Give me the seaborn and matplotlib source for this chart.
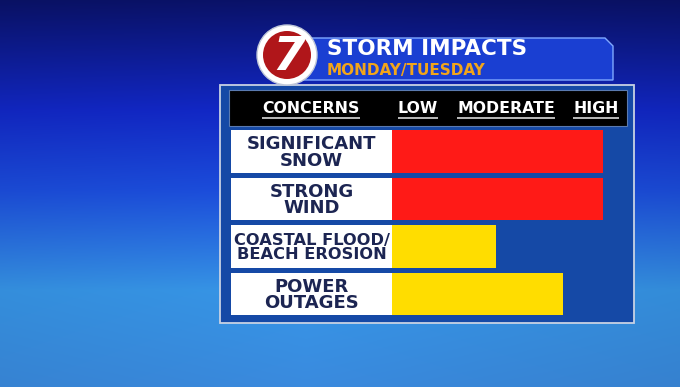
import numpy as np
import pandas as pd
import matplotlib
matplotlib.use("Agg")
import matplotlib.pyplot as plt
import seaborn as sns
from matplotlib.patches import Rectangle, Circle, Polygon

# ---- data ----
concerns = ["SIGNIFICANT\nSNOW", "STRONG\nWIND", "COASTAL FLOOD/\nBEACH EROSION", "POWER\nOUTAGES"]
impact = [3.0, 3.0, 1.48, 2.43]          # 0 = none, 1 = low, 2 = moderate, 3 = high
bar_colors = ["#ff1a17", "#ff1a17", "#ffdd00", "#ffdd00"]
levels = ["LOW", "MODERATE", "HIGH"]
header = "CONCERNS"
title = "STORM IMPACTS"
subtitle = "MONDAY/TUESDAY"

sns.set_theme(style="white")
plt.rcParams["font.family"] = ["DejaVu Sans"]

W, H = 680, 387
fig = plt.figure(figsize=(6.8, 3.87), dpi=100)

# ---- background axes in pixel coordinates ----
bg = fig.add_axes([0, 0, 1, 1])
bg.set_xlim(0, W)
bg.set_ylim(H, 0)
bg.axis("off")

stops_y = [0, 110, 190, 290, 387]
stops_c = np.array([[10, 18, 105], [18, 40, 200], [28, 78, 222], [55, 150, 232], [58, 138, 222]]) / 255
yy = np.arange(H)
col = np.stack([np.interp(yy, stops_y, stops_c[:, k]) for k in range(3)], axis=1)
xx = np.linspace(0, 1, W)
shade = 1 - 0.12 * np.abs(xx - 0.45)
img = col[:, None, :] * shade[None, :, None]
bg.imshow(np.clip(img, 0, 1), extent=[0, W, H, 0], aspect="auto", zorder=0)

# panel
bg.add_patch(Rectangle((220, 85), 414, 238, fc="#1549a6", ec="#c8d2e4", lw=1.3, zorder=1))
bg.add_patch(Rectangle((229, 90), 398, 36, fc="black", ec="#5a7ab0", lw=0.8, zorder=2))

# banner
bg.add_patch(Polygon([(300, 38), (605, 38), (613, 46), (613, 80), (300, 80)],
                     closed=True, fc="#1a3fd2", ec="#7fa8ff", lw=1.0, zorder=2))
bg.text(327, 55, title, color="white", fontsize=15.5, fontweight="bold",
        ha="left", va="baseline", zorder=3)
bg.text(327, 74.5, subtitle, color="#f2a51a", fontsize=11, fontweight="bold",
        ha="left", va="baseline", zorder=3)

# logo
bg.add_patch(Circle((287, 55), 30, fc="white", ec="#c0c8d8", lw=1, zorder=4))
bg.add_patch(Circle((287, 55), 24, fc="#b0161a", ec="none", zorder=5))
bg.text(289, 57, "7", color="white", fontsize=34, fontweight="bold", style="italic",
        ha="center", va="center", zorder=6)

# header texts
hdr = [(header, 311), (levels[0], 418), (levels[1], 506), (levels[2], 596)]
hdr_txt = [bg.text(x, 113, s, color="white", fontsize=11.3, fontweight="bold",
                   ha="center", va="baseline", zorder=3) for s, x in hdr]

# ---- bar axes ----
px_per_unit = 211 / 3
left_px, right_px = 231, 627
top_px, bot_px = 127.75, 317.75
ax = fig.add_axes([left_px / W, 1 - bot_px / H, (right_px - left_px) / W, (bot_px - top_px) / H])
label_w = (392 - left_px) / px_per_unit
df = pd.DataFrame({"concern": concerns, "impact": impact})
sns.barplot(data=df, x="impact", y="concern", hue="concern", palette=bar_colors,
            orient="h", width=0.9, saturation=1, legend=False, ax=ax, zorder=2,
            linewidth=0, edgecolor="none")
ax.barh(range(len(concerns)), width=label_w, left=-label_w, height=0.9,
        color="white", linewidth=0, zorder=2)
ax.set_xlim(-label_w, (right_px - 392) / px_per_unit)
ax.set_ylim(len(concerns) - 0.5, -0.5)
ax.axis("off")
ax.patch.set_alpha(0)

lab_txt = []
for i, c in enumerate(concerns):
    t = ax.text(-label_w / 2, i + 0.02, c, color="#1c2552", fontsize=13, fontweight="bold",
                ha="center", va="center", linespacing=0.92, zorder=3)
    lab_txt.append(t)

fig.canvas.draw()
r = fig.canvas.get_renderer()
box_w_px = 392 - left_px - 6
for t in lab_txt:
    w = t.get_window_extent(r).width
    if w > box_w_px:
        t.set_fontsize(13 * box_w_px / w)

for t in hdr_txt:
    bb = t.get_window_extent(r)
    bg.plot([bb.x0, bb.x1], [117.5, 117.5], color="#c8c8c8", lw=1.3, zorder=3,
            solid_capstyle="butt")

fig.savefig("out.png", dpi=100)
